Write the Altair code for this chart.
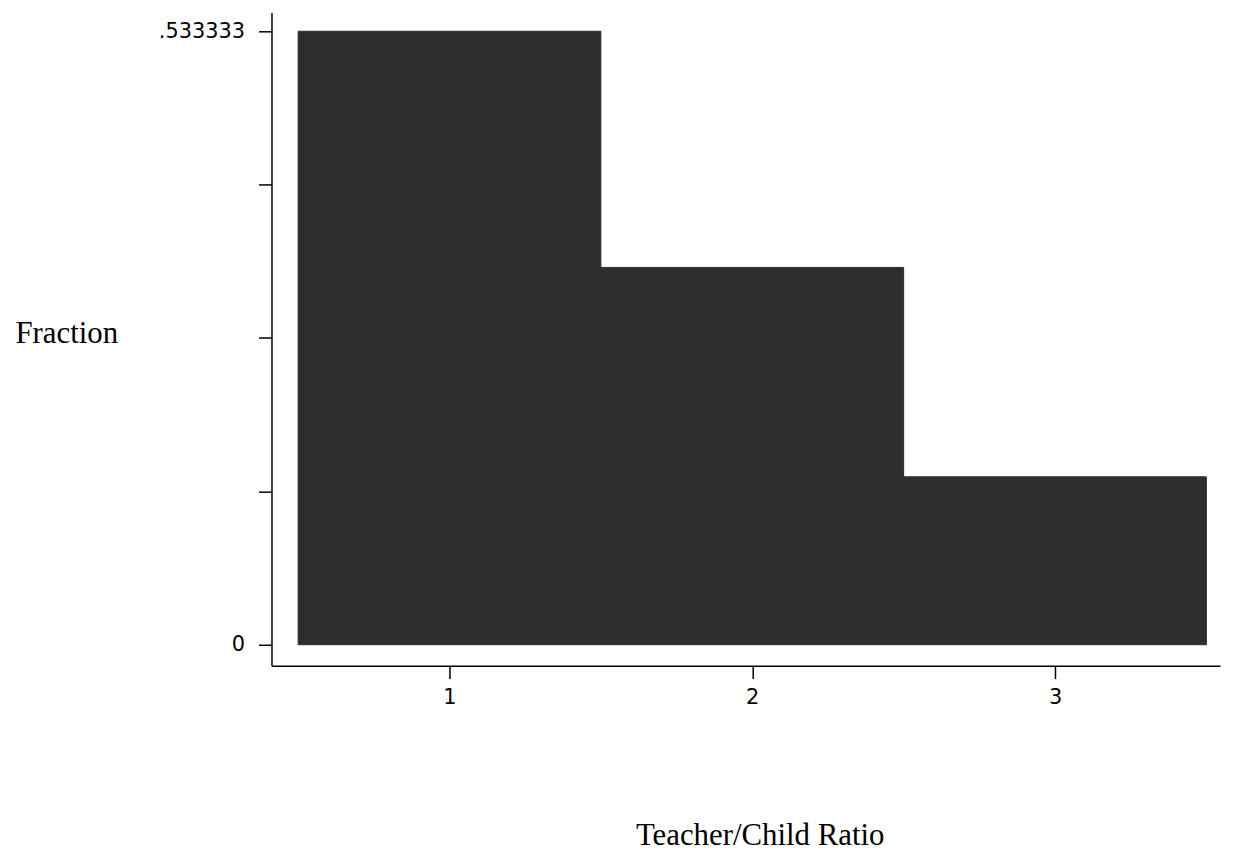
import altair as alt
import pandas as pd

# Data
categories = [1, 2, 3]
fractions = [0.533333, 0.328, 0.146]
bin_width = 1.0

y_ticks = [0, 0.133333, 0.266667, 0.4, 0.533333]
x_ticks = [1, 2, 3]

df = pd.DataFrame({
    "ratio": categories,
    "fraction": fractions,
})
df["x0"] = df["ratio"] - bin_width / 2
df["x1"] = df["ratio"] + bin_width / 2
df["y0"] = 0.0

x_scale = alt.Scale(domain=[0.412, 3.545], nice=False, zero=False)
y_scale = alt.Scale(domain=[-0.0182, 0.5497], nice=False, zero=False)

chart = alt.Chart(df).mark_rect(color="#2e2e2e", stroke="#2e2e2e", strokeWidth=1).encode(
    x=alt.X(
        "x0:Q",
        scale=x_scale,
        axis=alt.Axis(
            values=x_ticks,
            format="d",
            title="Teacher/Child Ratio",
            titleFont="Liberation Serif",
            titleFontSize=31,
            titleFontWeight="normal",
            titleColor="black",
            titleAlign="center",
            titleBaseline="alphabetic",
            titleX=491,
            titleY=180,
            labelFont="DejaVu Sans",
            labelFontSize=21,
            labelColor="black",
            labelPadding=8,
            tickSize=13,
            tickColor="black",
            tickWidth=1.5,
            domainColor="black",
            domainWidth=1.5,
            grid=False,
        ),
    ),
    x2="x1:Q",
    y=alt.Y(
        "y0:Q",
        scale=y_scale,
        axis=alt.Axis(
            values=y_ticks,
            labelExpr="datum.value == 0 ? '0' : (datum.value > 0.5 ? '.533333' : '')",
            title="Fraction",
            titleFont="Liberation Serif",
            titleFontSize=31,
            titleFontWeight="normal",
            titleColor="black",
            titleAngle=0,
            titleAlign="left",
            titleBaseline="alphabetic",
            titleX=-258,
            titleY=332,
            labelFont="DejaVu Sans",
            labelFontSize=21,
            labelColor="black",
            labelPadding=14,
            labelBaseline="middle",
            tickSize=13,
            tickColor="black",
            tickWidth=1.5,
            domainColor="black",
            domainWidth=1.5,
            grid=False,
        ),
    ),
    y2="fraction:Q",
).properties(
    width=954,
    height=657,
    padding={"left": 265, "top": 2, "right": 5, "bottom": 190},
    autosize=alt.AutoSizeParams(type="none"),
    background="white",
).configure_view(stroke=None)

chart.save("out.html", embed_options={"renderer": "svg", "actions": False})
